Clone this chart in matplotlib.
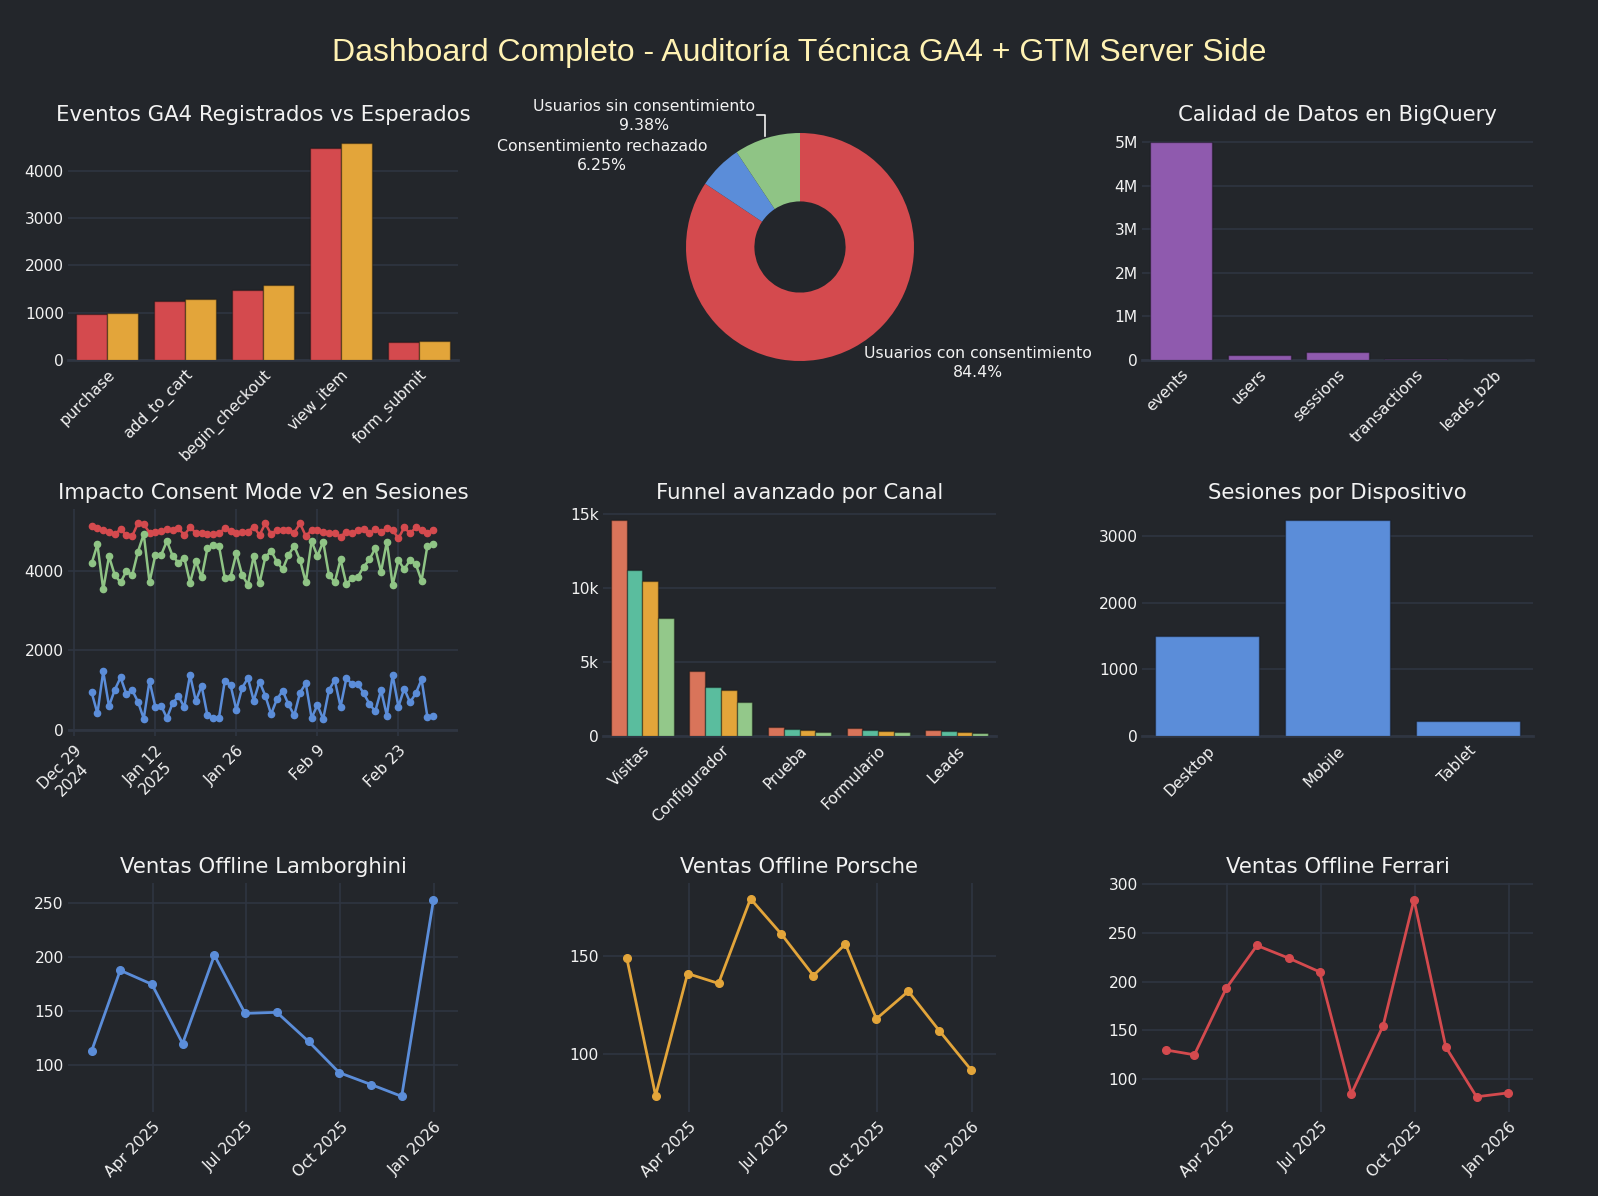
import matplotlib
matplotlib.use('Agg')
import matplotlib.pyplot as plt
from matplotlib.lines import Line2D
import numpy as np
import pandas as pd

# ---------------- DATA ----------------
event_names = ['purchase', 'add_to_cart', 'begin_checkout', 'view_item', 'form_submit']
events_registered = [970, 1240, 1490, 4490, 390]
events_expected = [990, 1280, 1590, 4590, 410]

consent_labels = ['Usuarios con consentimiento', 'Consentimiento rechazado', 'Usuarios sin consentimiento']
consent_values = [2700, 200, 300]

bq_tables = ['events', 'users', 'sessions', 'transactions', 'leads_b2b']
bq_rows = [5000000, 125000, 180000, 15000, 1500]

session_dates = pd.date_range('2025-01-01', periods=60, freq='D')
sessions_total = [5130, 5063, 5021, 4979, 4921, 5038, 4895, 4870, 5188, 5172,
                  4954, 4979, 4996, 5038, 5021, 5063, 4895, 5088, 4954, 4954,
                  4921, 4921, 4937, 5063, 5004, 4937, 4979, 4979, 5105, 4895,
                  5188, 4921, 5021, 5021, 5021, 4954, 5188, 4870, 5021, 5021,
                  4979, 4954, 4937, 4854, 4979, 4954, 5021, 5046, 4937, 5038,
                  4979, 5063, 5021, 4812, 5088, 4937, 5088, 5021, 4954, 5021]
sessions_consent = [4184, 4661, 3531, 4360, 3891, 3707, 3992, 3883, 4477, 4921,
                    3707, 4393, 4393, 4745, 4368, 4201, 4326, 3699, 4243, 3833,
                    4561, 4644, 4619, 3824, 3849, 4435, 3891, 3649, 4368, 3682,
                    4335, 4502, 4226, 4033, 4393, 4619, 4268, 3707, 4745, 4368,
                    4728, 3891, 3707, 4285, 3665, 3808, 3849, 4100, 4285, 4561,
                    3975, 4728, 3640, 4268, 4033, 4268, 4167, 3749, 4619, 4661]
sessions_no_consent = [946, 418, 1470, 600, 1010, 1320, 900, 1004, 711, 285,
                       1235, 586, 615, 300, 675, 854, 569, 1381, 728, 1110,
                       370, 300, 310, 1230, 1130, 505, 1060, 1305, 736, 1215,
                       862, 400, 770, 987, 644, 368, 937, 1172, 301, 628,
                       276, 1004, 1255, 586, 1297, 1155, 1155, 921, 653, 469,
                       1004, 360, 1381, 586, 1038, 695, 921, 1272, 335, 360]

funnel_stages = ['Visitas', 'Configurador', 'Prueba', 'Formulario', 'Leads']
funnel_ch1 = [14600, 4390, 610, 520, 430]
funnel_ch2 = [11200, 3290, 450, 405, 315]
funnel_ch3 = [10450, 3110, 430, 360, 290]
funnel_ch4 = [8000, 2320, 290, 250, 200]

devices = ['Desktop', 'Mobile', 'Tablet']
device_sessions = [1500, 3240, 230]

sales_months = pd.date_range('2025-01-31', periods=12, freq='ME')
sales_lamborghini = [113, 188, 175, 120, 202, 148, 149, 122, 93, 82, 71, 253]
sales_porsche = [149, 79, 141, 136, 179, 161, 140, 156, 118, 132, 112, 92]
sales_ferrari = [130, 125, 193, 237, 224, 210, 85, 155, 284, 133, 82, 86]

# ---------------- STYLE ----------------
W, H = 1598, 1196
BG = '#23262b'
GRID = '#2f3541'
TXT = '#f2f2f2'
RED = '#d44a4e'
ORANGE = '#e3a53a'
PURPLE = '#8f5aae'
BLUE = '#5b8dd9'
GREEN = '#8fc485'
F1, F2, F3, F4 = '#d9745a', '#5abd9e', '#e3a53a', '#93c88a'
TICK_FS = 11.2
TITLE_FS = 15.3

plt.rcParams['font.family'] = ['DejaVu Sans']
fig = plt.figure(figsize=(W / 100, H / 100), dpi=100, facecolor=BG)

cols = [(68, 458), (603, 996), (1142, 1533)]
rows = [(131, 360), (509, 736), (883, 1112)]


def make_ax(c, r, title=None, vgrid=False):
    x0, x1 = cols[c]
    y0, y1 = rows[r]
    ax = fig.add_axes([x0 / W, 1 - y1 / H, (x1 - x0) / W, (y1 - y0) / H])
    ax.set_facecolor(BG)
    for s in ax.spines.values():
        s.set_visible(False)
    ax.tick_params(length=0, colors=TXT, labelsize=TICK_FS)
    ax.tick_params(axis='y', pad=3)
    ax.tick_params(axis='x', pad=5)
    ax.grid(axis='y', color=GRID, lw=1.2)
    if vgrid:
        ax.grid(axis='x', color=GRID, lw=1.2)
    ax.set_axisbelow(True)
    if title:
        fig.text((x0 + x1) / 2 / W, 1 - (y0 - 16) / H, title, ha='center', va='center',
                 fontsize=TITLE_FS, color=TXT)
    return ax


def rot_labels(ax, labels):
    ax.set_xticklabels(labels, rotation=45, ha='right', rotation_mode='anchor')


edge = dict(edgecolor=(0, 0, 0, 0.35), linewidth=1)

# ---- Row 1 col 1: events ----
ax = make_ax(0, 0, 'Eventos GA4 Registrados vs Esperados')
x = np.arange(len(event_names))
ax.bar(x - 0.2, events_registered, 0.4, color=RED, **edge)
ax.bar(x + 0.2, events_expected, 0.4, color=ORANGE, **edge)
ax.set_xlim(-0.5, len(event_names) - 0.5)
ax.set_ylim(0, 4840)
ax.set_yticks([0, 1000, 2000, 3000, 4000])
ax.set_xticks(x)
rot_labels(ax, event_names)
ax.axhline(0, color=GRID, lw=2, clip_on=False, zorder=0.5)

# ---- Row 1 col 2: pie ----
cx, cy, rad = 800, 247, 114
pax = fig.add_axes([(cx - rad) / W, 1 - (cy + rad) / H, 2 * rad / W, 2 * rad / H])
pax.set_facecolor(BG)
pax.pie(consent_values, colors=[RED, BLUE, GREEN], startangle=90, counterclock=False,
        radius=1, wedgeprops=dict(width=0.6, linewidth=0))
pax.set_xlim(-1, 1)
pax.set_ylim(-1, 1)
pax.set_aspect('equal')
pax.axis('off')
pct = [100 * v / sum(consent_values) for v in consent_values]
lab_fs = 11.3
fig.text(978 / W, 1 - 363 / H, f'{consent_labels[0]}\n{pct[0]:.1f}%', ha='center', va='center',
         fontsize=lab_fs, color=TXT, linespacing=1.3)
fig.text(602 / W, 1 - 156 / H, f'{consent_labels[1]}\n{pct[1]:.2f}%', ha='center', va='center',
         fontsize=lab_fs, color=TXT, linespacing=1.3)
fig.text(644 / W, 1 - 116 / H, f'{consent_labels[2]}\n{pct[2]:.2f}%', ha='center', va='center',
         fontsize=lab_fs, color=TXT, linespacing=1.3)
fig.add_artist(Line2D([757 / W, 765 / W, 765 / W], [1 - 115 / H, 1 - 115 / H, 1 - 136 / H],
                      color=TXT, lw=1.2))

# ---- Row 1 col 3: BigQuery ----
ax = make_ax(2, 0, 'Calidad de Datos en BigQuery')
x = np.arange(len(bq_tables))
ax.bar(x, bq_rows, 0.8, color=PURPLE, **edge)
ax.set_xlim(-0.5, len(bq_tables) - 0.5)
ax.set_ylim(0, 5.26e6)
ax.set_yticks([0, 1e6, 2e6, 3e6, 4e6, 5e6])
ax.set_yticklabels(['0', '1M', '2M', '3M', '4M', '5M'])
ax.set_xticks(x)
rot_labels(ax, bq_tables)
ax.axhline(0, color=GRID, lw=2, clip_on=False, zorder=0.5)

# ---- Row 2 col 1: consent mode sessions ----
ax = make_ax(0, 1, 'Impacto Consent Mode v2 en Sesiones', vgrid=True)
ax.plot(session_dates, sessions_total, color=RED, lw=1.8, marker='o', ms=4.5)
ax.plot(session_dates, sessions_consent, color=GREEN, lw=1.8, marker='o', ms=4.5)
ax.plot(session_dates, sessions_no_consent, color=BLUE, lw=1.8, marker='o', ms=4.5)
ax.set_xlim(pd.Timestamp('2024-12-27 22:00'), pd.Timestamp('2025-03-05 07:00'))
ax.set_ylim(-150, 5550)
ax.set_yticks([0, 2000, 4000])
tick_dates = pd.to_datetime(['2024-12-29', '2025-01-12', '2025-01-26', '2025-02-09', '2025-02-23'])
ax.set_xticks(tick_dates)
ax.set_xticklabels(['Dec 29\n2024', 'Jan 12\n2025', 'Jan 26', 'Feb 9', 'Feb 23'],
                   rotation=45, ha='right', rotation_mode='anchor', multialignment='center')
ax.axhline(0, color=GRID, lw=2, zorder=0.5)

# ---- Row 2 col 2: funnel ----
ax = make_ax(1, 1, 'Funnel avanzado por Canal')
x = np.arange(len(funnel_stages))
for i, (vals, colr) in enumerate(zip([funnel_ch1, funnel_ch2, funnel_ch3, funnel_ch4], [F1, F2, F3, F4])):
    ax.bar(x - 0.3 + 0.2 * i, vals, 0.2, color=colr, **edge)
ax.set_xlim(-0.5, len(funnel_stages) - 0.5)
ax.set_ylim(0, 15340)
ax.set_yticks([0, 5000, 10000, 15000])
ax.set_yticklabels(['0', '5k', '10k', '15k'])
ax.set_xticks(x)
rot_labels(ax, funnel_stages)
ax.axhline(0, color=GRID, lw=2, clip_on=False, zorder=0.5)

# ---- Row 2 col 3: devices ----
ax = make_ax(2, 1, 'Sesiones por Dispositivo')
x = np.arange(len(devices))
ax.bar(x, device_sessions, 0.8, color=BLUE, **edge)
ax.set_xlim(-0.5, len(devices) - 0.5)
ax.set_ylim(0, 3410)
ax.set_yticks([0, 1000, 2000, 3000])
ax.set_xticks(x)
rot_labels(ax, devices)
ax.axhline(0, color=GRID, lw=2, clip_on=False, zorder=0.5)

# ---- Row 3: offline sales ----
sales_ticks = pd.to_datetime(['2025-04-01', '2025-07-01', '2025-10-01', '2026-01-01'])
sales_ticklabels = ['Apr 2025', 'Jul 2025', 'Oct 2025', 'Jan 2026']
panels = [
    (0, 'Ventas Offline Lamborghini', sales_lamborghini, BLUE, (56.5, 269), [100, 150, 200, 250]),
    (1, 'Ventas Offline Porsche', sales_porsche, ORANGE, (70.7, 187), [100, 150]),
    (2, 'Ventas Offline Ferrari', sales_ferrari, RED, (66.4, 301), [100, 150, 200, 250, 300]),
]
for c, title, vals, colr, yl, yt in panels:
    ax = make_ax(c, 2, title, vgrid=True)
    ax.plot(sales_months, vals, color=colr, lw=2, marker='o', ms=5.5)
    ax.set_xlim(pd.Timestamp('2025-01-08'), pd.Timestamp('2026-01-24'))
    ax.set_ylim(*yl)
    ax.set_yticks(yt)
    ax.set_xticks(sales_ticks)
    ax.set_xticklabels(sales_ticklabels, rotation=45, ha='right', rotation_mode='anchor')

# ---- main title ----
fig.text(0.5, 1 - 53 / H, 'Dashboard Completo - Auditoría Técnica GA4 + GTM Server Side',
         ha='center', va='center', fontsize=23, color='#fff2b3', family='Liberation Sans')

fig.savefig('out.png', dpi=100, facecolor=BG)
